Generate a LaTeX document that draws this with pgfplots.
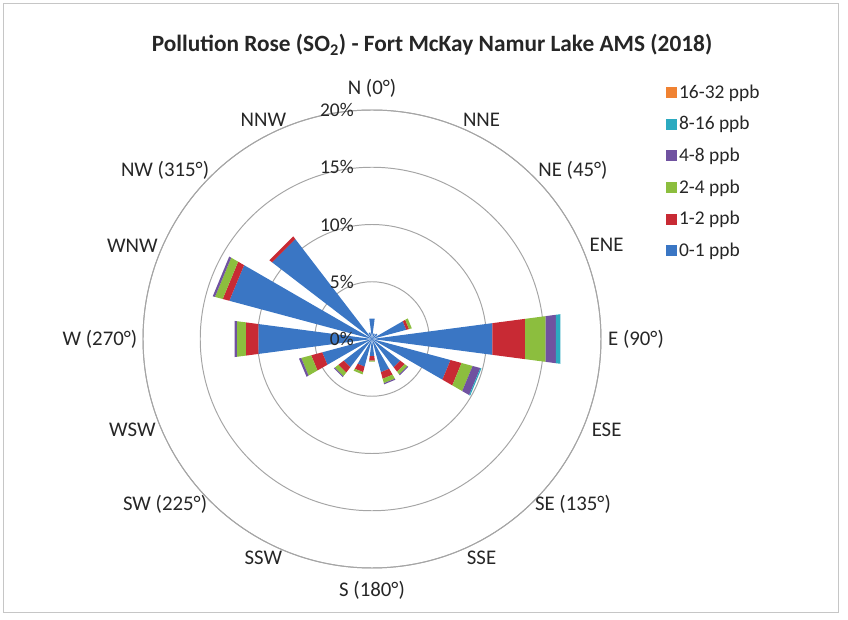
\documentclass[border=0pt]{standalone}
\usepackage{pgfplots}
\pgfplotsset{compat=1.18}
\usepackage{pgfplotstable}
\usepgfplotslibrary{polar}
\usepackage{fontspec}
\setmainfont{Carlito}

\definecolor{cb}{RGB}{58,118,196}
\definecolor{cr}{RGB}{200,42,52}
\definecolor{cg}{RGB}{140,190,62}
\definecolor{cp}{RGB}{112,82,160}
\definecolor{ct}{RGB}{44,170,192}
\definecolor{co}{RGB}{240,130,50}
\definecolor{gridc}{RGB}{165,165,165}

% compass direction (deg), then frequency (%) of each concentration class
\pgfplotstableread{
dir b r g p t o
0 1.8 0 0 0 0 0
22.5 0.5 0 0 0 0 0
45 0.6 0 0 0 0 0
67.5 3.1 0.25 0.25 0 0 0
90 10.6 2.9 1.8 0.9 0.4 0
112.5 7.1 1.0 1.0 0.7 0.1 0
135 3.1 0.5 0.3 0.1 0 0
157.5 3.0 0.6 0.4 0.1 0 0
180 1.5 0.4 0.1 0 0 0
202.5 2.5 0.5 0.2 0 0 0
225 3.1 0.6 0.4 0.1 0 0
247.5 4.5 1.0 0.9 0.2 0 0
270 10.0 1.1 0.8 0.2 0 0
292.5 12.9 0.6 0.7 0.2 0 0
315 11.0 0.3 0 0 0 0
337.5 0.6 0 0 0 0 0
}\rosedata

\newcommand\seg[2]{%
  \pgfplotstablegetelem{\ri}{#1}\of\rosedata
  \let\segval\pgfplotsretval
  \ifdim\segval pt>0pt
    \pgfmathsetmacro\segnew{\segcum+\segval}%
    \edef\doplot{\noexpand\addplot[forget plot,fill=#2,draw=none] coordinates {(\angA,\segcum) (\angA,\segnew) (\angB,\segnew) (\angB,\segcum)};}%
    \doplot
    \let\segcum\segnew
  \fi
}

\begin{document}
\begin{tikzpicture}[rlab/.style={anchor=east, xshift=-13bp, inner sep=0pt, font=\fontsize{14bp}{16bp}\selectfont, text=black!85}]
\begin{polaraxis}[
  scale only axis, width=329.76bp, height=329.76bp,
  ymin=0, ymax=20, clip=false,
  ytick={0,5,10,15,20}, yticklabels={},
  xtick={0,22.5,45,67.5,90,112.5,135,157.5,180,202.5,225,247.5,270,292.5,315,337.5},
  xticklabels={E (90°),ENE,NE (45°),NNE,N (0°),NNW,NW (315°),WNW,W (270°),WSW,SW (225°),SSW,S (180°),SSE,SE (135°),ESE},
  xticklabel style={font=\fontsize{15bp}{18bp}\selectfont, text=black!85, anchor=center, inner sep=0pt,
    xshift={{25.2,16.6,28.1,15.8,0,-15.1,-32.4,-20.2,-31,-20.2,-32.4,-15.1,0,15.8,28.1,16.6}[\ticknum]*1bp},
    yshift={{0,5,5,5.8,15.8,5.8,5,4.3,0,-2,-2.5,-5,-15.8,-5,-2.5,-2}[\ticknum]*1bp}},
  xmajorgrids=false, ymajorgrids=true,
  major grid style={draw=gridc, line width=0.7bp},
  axis line style={draw=gridc, line width=0.7bp},
  y axis line style={draw=none},
  major tick length=0pt,
  legend cell align=left,
  legend style={draw=none, fill=none, inner sep=0pt, outer sep=0pt,
    at={(axis cs:41.2,34.1)}, anchor=north west,
    font=\fontsize{14bp}{16bp}\selectfont, row sep=7.6bp, text=black!85},
]
\pgfplotsforeachungrouped \ri in {0,...,15}{%
  \pgfplotstablegetelem{\ri}{dir}\of\rosedata
  \pgfmathsetmacro\angC{90-\pgfplotsretval}%
  \pgfmathsetmacro\angA{\angC-7.5}%
  \pgfmathsetmacro\angB{\angC+7.5}%
  \def\segcum{0}%
  \seg{b}{cb}\seg{r}{cr}\seg{g}{cg}\seg{p}{cp}\seg{t}{ct}\seg{o}{co}%
}
\addlegendimage{legend image code/.code={\fill[co] (0bp,-3.6bp) rectangle (7.2bp,3.6bp);}}
\addlegendentry{16-32 ppb}
\addlegendimage{legend image code/.code={\fill[ct] (0bp,-3.6bp) rectangle (7.2bp,3.6bp);}}
\addlegendentry{8-16 ppb}
\addlegendimage{legend image code/.code={\fill[cp] (0bp,-3.6bp) rectangle (7.2bp,3.6bp);}}
\addlegendentry{4-8 ppb}
\addlegendimage{legend image code/.code={\fill[cg] (0bp,-3.6bp) rectangle (7.2bp,3.6bp);}}
\addlegendentry{2-4 ppb}
\addlegendimage{legend image code/.code={\fill[cr] (0bp,-3.6bp) rectangle (7.2bp,3.6bp);}}
\addlegendentry{1-2 ppb}
\addlegendimage{legend image code/.code={\fill[cb] (0bp,-3.6bp) rectangle (7.2bp,3.6bp);}}
\addlegendentry{0-1 ppb}
\node[rlab] at (axis cs:90,0) {0\%};
\node[rlab] at (axis cs:90,5) {5\%};
\node[rlab] at (axis cs:90,10) {10\%};
\node[rlab] at (axis cs:90,15) {15\%};
\node[rlab] at (axis cs:90,20) {20\%};
\coordinate (ctr) at (axis cs:0,0);
\end{polaraxis}
\begin{scope}[shift={(ctr)}, x=0.72bp, y=-0.72bp]
  \path (-372,-339) rectangle (476,281);
  \draw[gray!45, line width=0.7bp] (-369,-336) rectangle (466,273);
  \node[font=\bfseries\fontsize{16.8bp}{19bp}\selectfont, text=black!85] at (60,-294) {Pollution Rose (SO\textsubscript{2}) - Fort McKay Namur Lake AMS (2018)};
\end{scope}
\end{tikzpicture}
\end{document}
